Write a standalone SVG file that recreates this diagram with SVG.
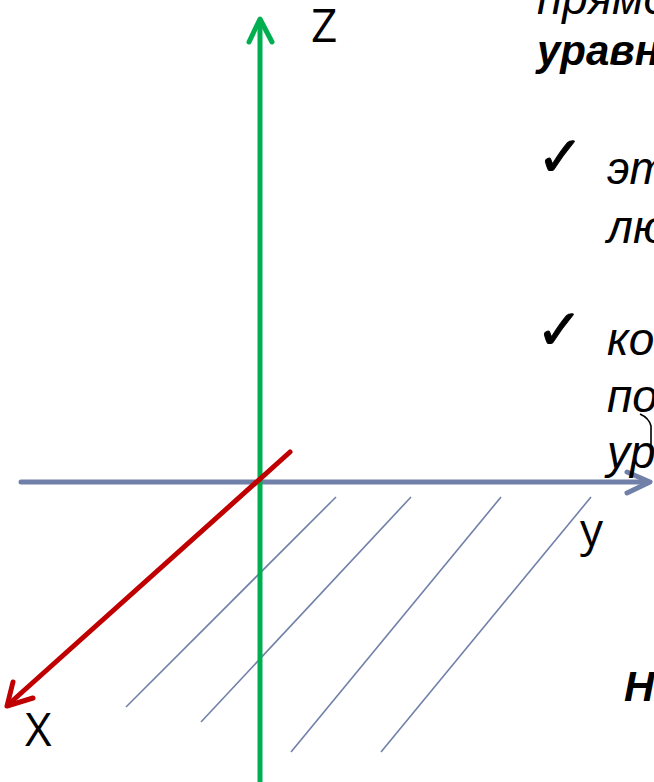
<svg xmlns="http://www.w3.org/2000/svg" width="654" height="782" viewBox="0 0 654 782">
<style>
.ax{fill:none;stroke-width:5;stroke-linecap:round;stroke-linejoin:round}
.hatch{stroke:#7080A8;stroke-width:1.6;fill:none}
.lbl{font-family:"Open Sans","Liberation Sans",sans-serif;font-size:46px;fill:#000}
.t{font-family:"Liberation Sans",Arial,sans-serif;font-size:46px;font-style:italic;fill:#000}
.b{font-weight:bold;font-size:42px}
.chk{font-family:"DejaVu Sans",sans-serif;font-size:56px;fill:#000;stroke:#000;stroke-width:1}
</style>
<rect width="654" height="782" fill="#fff"/>
<g id="hatching">
<line class="hatch" x1="336" y1="497" x2="126" y2="707"/>
<line class="hatch" x1="411" y1="497" x2="201" y2="722"/>
<line class="hatch" x1="501" y1="497" x2="291" y2="752"/>
<line class="hatch" x1="591" y1="497" x2="381" y2="752"/>
</g>
<g id="axis-y">
<line class="ax" stroke="#7080A8" x1="21" y1="482" x2="648" y2="482"/>
<polyline class="ax" stroke="#7080A8" points="627,472 650,482 627,493"/>
</g>
<g id="axis-z">
<line class="ax" stroke="#00B050" x1="260" y1="785" x2="260" y2="21"/>
<polyline class="ax" stroke="#00B050" points="249,42 260,19 272,42"/>
</g>
<g id="axis-x">
<line class="ax" stroke="#C00000" x1="290" y1="452" x2="10" y2="703"/>
<polyline class="ax" stroke="#C00000" points="13,682 7,706 33,698"/>
</g>
<g id="labels">
<text class="lbl" x="311" y="42">Z</text>
<text class="lbl" x="25" y="746">X</text>
<text class="lbl" x="580" y="546">у</text>
</g>
<g id="text">
<text class="t" x="537" y="14">прямо</text>
<text class="t b" x="537" y="65">уравн</text>
<text class="chk" x="537" y="176">✓</text>
<text class="t" x="607" y="184">эт</text>
<text class="t" x="607" y="243">лю</text>
<text class="chk" x="536" y="349">✓</text>
<text class="t" x="607" y="355">ко</text>
<text class="t" x="607" y="412">по</text>
<text class="t" x="607" y="468">ур</text>
<path d="M640,414 Q649,418 651,426 L651,446" fill="none" stroke="#000" stroke-width="1.6"/>
<text class="t b" x="624" y="701">Н</text>
</g>
</svg>
